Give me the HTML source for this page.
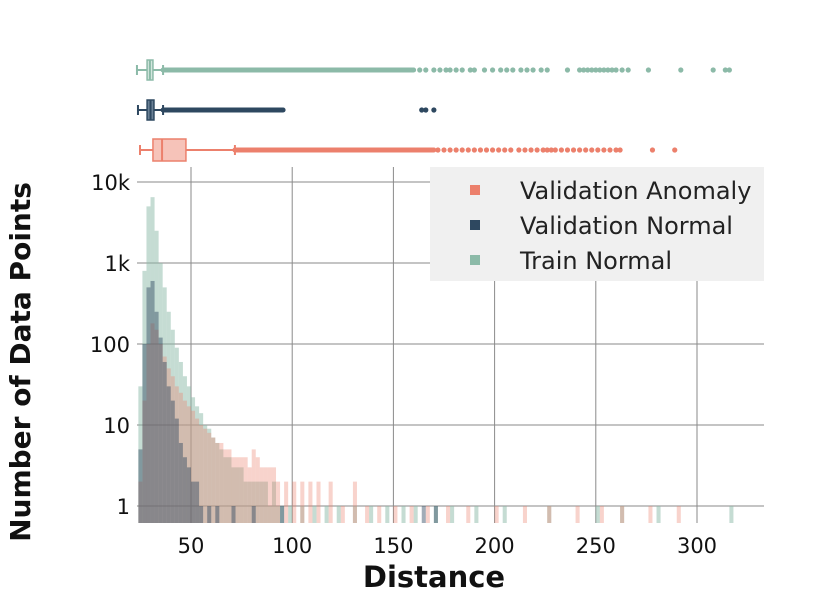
<!DOCTYPE html>
<html><head><meta charset="utf-8"><style>
body{margin:0;background:#fff}
svg text{font-family:"DejaVu Sans","Liberation Sans",sans-serif}
</style></head><body>
<svg id="c" width="830" height="598" xmlns="http://www.w3.org/2000/svg"></svg>
<script>
const xTicks=[50,100,150,200,250,300];
const yTicks=[1,10,100,1000,10000];
const yTickLabels=["1","10","100","1k","10k"];
const binWidth=2;
const trainBins=[24,26,28,30,32,34,36,38,40,42,44,46,48,50,52,54,56,58,60,62,64,66,68,70,72,74,76,78,80,82,84,86,88,90,92,94,98,104,110,116,122,130,138,146,154,160,170,178,190,204,226,250,262,280,316];
const trainCounts=[30,800,5000,6500,2500,1000,500,250,150,90,60,40,30,22,17,14,10,9,7,6,5,4,4,3,3,3,2,2,2,2,2,2,1,2,1,1,1,1,1,1,1,1,1,1,1,1,1,1,1,1,1,1,1,1,1];
const normBins=[24,26,28,30,32,34,36,38,40,42,44,46,48,50,52,54,58,62,70,80,94,164,170];
const normCounts=[5,100,500,600,250,120,60,30,20,12,6,4,3,2,2,1,1,1,1,1,1,1,1];
const anomBins=[24,26,28,30,32,34,36,38,40,42,44,46,48,50,52,54,56,58,60,62,64,66,68,70,72,74,76,78,80,82,84,86,88,90,92,96,100,104,108,112,118,124,130,136,142,150,158,166,176,186,200,214,226,240,252,262,276,290];
const anomCounts=[2,20,100,180,150,100,70,50,40,30,25,20,17,15,12,10,9,8,7,6,6,5,5,4,4,4,4,3,5,4,3,3,3,3,2,2,2,2,2,2,2,1,2,1,1,1,1,1,1,1,1,1,1,1,1,1,1,1];
// box stats: [whiskerLow, q1, median, q3, whiskerHigh, outlierDenseEnd]
const boxNames=["train-normal","validation-normal","validation-anomaly"];
const boxStats=[[23.3,28.3,29.7,31.2,36.2,160],[23.8,28.3,30,31.7,36.2,95.5],[24.8,31.2,35.7,47.5,71.7,170]];
const boxIsolated=[
[163,166,170,173,176,178,181,184,188,190,195,199,203,206,209,213,216,219,223,226,236,242,244,246,248,250,252,254,256,258,260,263,266,276,292,308,314,316],
[164,166,170],
[172,175,178,181,184,187,190,193,196,199,202,205,208,212,215,218,221,224,226,228,230,233,236,239,242,245,248,251,254,257,260,262,278,289]];
const legendLabels=["Validation Anomaly","Validation Normal","Train Normal"];

const svg=document.getElementById('c');const NS="http://www.w3.org/2000/svg";
function el(t,a,p){const e=document.createElementNS(NS,t);for(const k in a)e.setAttribute(k,a[k]);(p||svg).appendChild(e);return e;}
const X=v=>191+(v-50)*2.024;
const Y=c=>506-Math.log10(c)*81;
const plotTop=167,plotBot=523,plotLeft=137,plotRight=764;
const grid=el('g',{});

xTicks.forEach(t=>{const l=el('line',{x1:X(t),x2:X(t),y1:plotTop,y2:plotBot,stroke:'#8a8a8a','stroke-width':1},grid);

const tx=el('text',{x:X(t),y:553,'font-size':21,'text-anchor':'middle',fill:'#111'});tx.textContent=t;
});
yTicks.forEach((t,i)=>{const l=el('line',{x1:plotLeft,x2:plotRight,y1:Y(t),y2:Y(t),stroke:'#8a8a8a','stroke-width':1},grid);

const tx=el('text',{x:130,y:Y(t)+8,'font-size':21,'text-anchor':'end',fill:'#111'});tx.textContent=yTickLabels[i];
});
function hist(bins,counts,color,op,name){const g=el('g',{fill:color,'fill-opacity':op});

bins.forEach((b,i)=>{if(!counts[i])return;const y=Y(counts[i]);
const r=el('rect',{x:X(b),y:y,width:Math.max(1,X(b+binWidth)-X(b)),height:plotBot-y},g);
});}
hist(trainBins,trainCounts,'#8cbaa8',0.5,'train-normal-histogram');
hist(anomBins,anomCounts,'#ec806c',0.35,'validation-anomaly-histogram');
hist(normBins,normCounts,'#2e4860',0.45,'validation-normal-histogram');
const colors=['#8cbaa8','#2e4860','#ec806c'];const fills=['#d3e6de','#6a8095','#f6c3b9'];
const boxY=[70,110,150];const boxH=[20,20,22];
boxStats.forEach((s,i)=>{const g=el('g',{});
const y=boxY[i],c=colors[i];
el('line',{x1:X(s[0]),x2:X(s[1]),y1:y,y2:y,stroke:c,'stroke-width':2},g);
el('line',{x1:X(s[0]),x2:X(s[0]),y1:y-5,y2:y+5,stroke:c,'stroke-width':2},g);
el('line',{x1:X(s[3]),x2:X(s[4]),y1:y,y2:y,stroke:c,'stroke-width':2},g);
el('line',{x1:X(s[4]),x2:X(s[4]),y1:y-5,y2:y+5,stroke:c,'stroke-width':2},g);
el('rect',{x:X(s[1]),y:y-boxH[i]/2,width:X(s[3])-X(s[1]),height:boxH[i],fill:fills[i],stroke:c,'stroke-width':1.5},g);
el('line',{x1:X(s[2]),x2:X(s[2]),y1:y-boxH[i]/2,y2:y+boxH[i]/2,stroke:c,'stroke-width':2},g);
el('line',{x1:X(s[4]),x2:X(s[5]),y1:y,y2:y,stroke:c,'stroke-width':5,'stroke-linecap':'round'},g);
boxIsolated[i].forEach(v=>{const d=el('circle',{cx:X(v),cy:y,r:2.6,fill:c},g);
});});
const lg=el('g',{});
el('rect',{x:430,y:167,width:334,height:114,fill:'#f0f0f0'},lg);
const lc=['#ec806c','#2e4860','#8cbaa8'];
legendLabels.forEach((t,i)=>{const ge=el('g',{},lg);
const yy=190+i*35;el('rect',{x:470,y:yy-5,width:10,height:10,fill:lc[i]},ge);
const tx=el('text',{x:520,y:yy+9,'font-size':24,fill:'#222'},ge);tx.textContent=t;});
const xl=el('text',{x:434,y:587,'font-size':29,'font-weight':'bold','text-anchor':'middle',fill:'#111'});xl.textContent='Distance';

const yl=el('text',{x:0,y:0,'font-size':28,'font-weight':'bold','text-anchor':'middle',fill:'#111',transform:'translate(30,362) rotate(-90)'});yl.textContent='Number of Data Points';

</script>
</body></html>
